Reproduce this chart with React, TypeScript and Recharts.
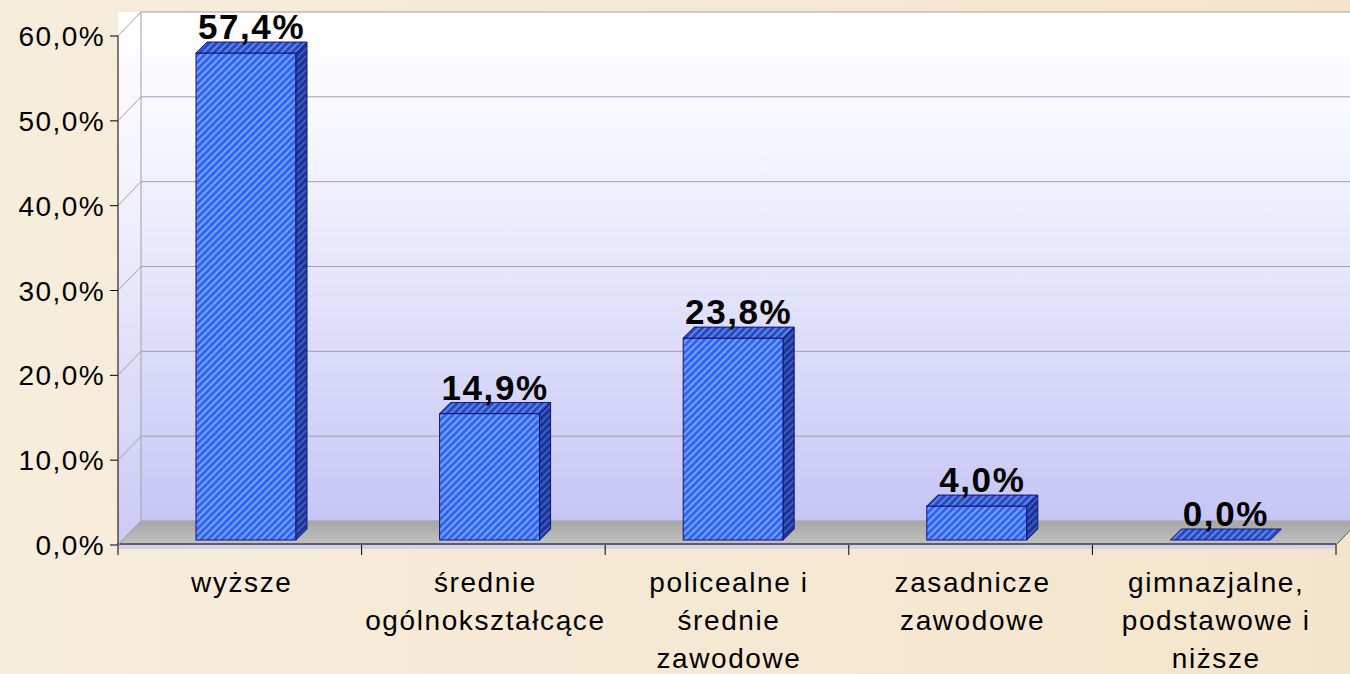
import React from 'react';
import { BarChart, Bar, XAxis, YAxis, CartesianGrid, Customized } from 'recharts';

const categories = [
  'wyższe',
  'średnie\nogólnokształcące',
  'policealne i\nśrednie\nzawodowe',
  'zasadnicze\nzawodowe',
  'gimnazjalne,\npodstawowe i\nniższe',
];
const shares = [57.4, 14.9, 23.8, 4.0, 0.0];
const yTicks = [0, 10, 20, 30, 40, 50, 60];
const Y_MAX = 60;

const data = categories.map((name, i) => ({ name, value: shares[i] }));

const W = 1350;
const H = 674;
const AXIS_X = 118;
const PLOT_TOP = 36;
const PLOT_RIGHT = 1336;
const AXIS_Y = 545;
const DEPTH_X = 23;
const DEPTH_Y = 24;
const BAND = (PLOT_RIGHT - AXIS_X) / categories.length;
const BAR_DEPTH = 11;

const FONT = '"Liberation Sans", Arial, sans-serif';

const fmt = (v: number) => v.toFixed(1).replace('.', ',') + '%';

// back wall gridlines sit one wall-depth behind the front ticks
const backGridLines = ({ yAxis, offset }: any) => {
  if (yAxis && typeof yAxis.scale === 'function') {
    return yTicks.map((t) => yAxis.scale(t) - DEPTH_Y);
  }
  const top = offset?.top ?? PLOT_TOP;
  const h = offset?.height ?? AXIS_Y - PLOT_TOP;
  return yTicks.map((t) => top + h * (1 - t / Y_MAX) - DEPTH_Y);
};

const Defs = () => (
  <defs>
    <linearGradient id="wallGrad" x1="0" y1="0" x2="0" y2="1">
      <stop offset="0%" stopColor="#ffffff" />
      <stop offset="25%" stopColor="#f6f6fe" />
      <stop offset="100%" stopColor="#c6c6f6" />
    </linearGradient>
    <linearGradient id="sideWallGrad" x1="0" y1="0" x2="0" y2="1">
      <stop offset="0%" stopColor="#ffffff" />
      <stop offset="30%" stopColor="#f4f4fd" />
      <stop offset="100%" stopColor="#cacaf6" />
    </linearGradient>
    <linearGradient id="floorGrad" x1="0" y1="0" x2="0" y2="1">
      <stop offset="0%" stopColor="#a6a6a6" />
      <stop offset="100%" stopColor="#c2c2c2" />
    </linearGradient>
    <pattern id="frontHatch" patternUnits="userSpaceOnUse" width="5" height="5" patternTransform="rotate(45)">
      <rect width="5" height="5" fill="#3264f0" />
      <rect width="2" height="5" fill="#74a2ff" />
    </pattern>
    <pattern id="topHatch" patternUnits="userSpaceOnUse" width="5" height="5" patternTransform="rotate(45)">
      <rect width="5" height="5" fill="#2848c8" />
      <rect width="2" height="5" fill="#5c88dc" />
    </pattern>
    <pattern id="sideHatch" patternUnits="userSpaceOnUse" width="5" height="5" patternTransform="rotate(45)">
      <rect width="5" height="5" fill="#1c3295" />
      <rect width="2" height="5" fill="#3c5dbe" />
    </pattern>
  </defs>
);

const Scenery = () => (
  <g>
    <Defs />
    <rect x={AXIS_X} y={PLOT_TOP - DEPTH_Y} width={DEPTH_X} height={AXIS_Y - PLOT_TOP + DEPTH_Y} fill="url(#sideWallGrad)" />
    <polygon
      points={`${AXIS_X},${AXIS_Y} ${AXIS_X + DEPTH_X},${AXIS_Y - DEPTH_Y} ${PLOT_RIGHT + DEPTH_X},${AXIS_Y - DEPTH_Y} ${PLOT_RIGHT},${AXIS_Y}`}
      fill="url(#floorGrad)"
    />
    <line x1={AXIS_X} y1={AXIS_Y} x2={AXIS_X + DEPTH_X} y2={AXIS_Y - DEPTH_Y} stroke="#9a9a9a" />
    <line x1={PLOT_RIGHT} y1={AXIS_Y} x2={PLOT_RIGHT + DEPTH_X} y2={AXIS_Y - DEPTH_Y} stroke="#555" />
    <line x1={AXIS_X + DEPTH_X} y1={PLOT_TOP - DEPTH_Y} x2={AXIS_X + DEPTH_X} y2={AXIS_Y - DEPTH_Y} stroke="#a0a0a0" />
    <rect x={AXIS_X} y={AXIS_Y} width={PLOT_RIGHT - AXIS_X} height={4} fill="#d4d2ea" />
    <line x1={AXIS_X} y1={AXIS_Y - 1} x2={PLOT_RIGHT} y2={AXIS_Y - 1} stroke="#000" />
  </g>
);

const YTick = (props: any) => {
  const { y, payload } = props;
  return (
    <g>
      <line x1={AXIS_X} y1={y} x2={AXIS_X + DEPTH_X} y2={y - DEPTH_Y} stroke="#a0a0a0" />
      <line x1={AXIS_X - 8} y1={y} x2={AXIS_X} y2={y} stroke="#000" />
      <text
        x={AXIS_X - 13}
        y={y}
        dy="0.36em"
        textAnchor="end"
        fontFamily={FONT}
        fontSize={28}
        letterSpacing={1.4}
        fill="#000"
      >
        {fmt(payload.value)}
      </text>
    </g>
  );
};

const XTick = (props: any) => {
  const { x, payload, index } = props;
  const lines = String(payload.value).split('\n');
  const left = x - BAND / 2;
  return (
    <g>
      <line x1={left} y1={AXIS_Y} x2={left} y2={AXIS_Y + 10} stroke="#000" />
      {index === categories.length - 1 && (
        <line x1={x + BAND / 2} y1={AXIS_Y} x2={x + BAND / 2} y2={AXIS_Y + 10} stroke="#000" />
      )}
      <text textAnchor="middle" fontFamily={FONT} fontSize={28} letterSpacing={1.6} fill="#000">
        {lines.map((l, i) => (
          <tspan key={i} x={x + 2} y={AXIS_Y + 47 + i * 38}>
            {l}
          </tspan>
        ))}
      </text>
    </g>
  );
};

const Bar3D = (props: any) => {
  const { x, y, width, height, value } = props;
  const d = BAR_DEPTH;
  const x0 = x + 6;
  const y0 = y - 5;
  const w = width;
  const h = Math.max(0, height);
  const top = `${x0},${y0} ${x0 + d},${y0 - d} ${x0 + w + d},${y0 - d} ${x0 + w},${y0}`;
  const side = `${x0 + w},${y0} ${x0 + w + d},${y0 - d} ${x0 + w + d},${y0 + h - d} ${x0 + w},${y0 + h}`;
  return (
    <g>
      {h > 0.5 && (
        <>
          <rect x={x0} y={y0} width={w} height={h} fill="url(#frontHatch)" stroke="#12127a" strokeWidth={1} />
          <polygon points={side} fill="url(#sideHatch)" stroke="#12127a" strokeWidth={1} />
        </>
      )}
      <polygon points={top} fill="url(#topHatch)" stroke="#12127a" strokeWidth={1} />
      <text
        x={x0 + (w + d) / 2}
        y={y0 - d - 3}
        textAnchor="middle"
        fontFamily={FONT}
        fontWeight="bold"
        fontSize={35}
        letterSpacing={1.6}
        fill="#000"
      >
        {fmt(Number(value))}
      </text>
    </g>
  );
};

export default function App() {
  return (
    <div
      style={{
        position: 'absolute',
        left: 0,
        top: 0,
        width: W,
        height: H,
        background: 'linear-gradient(90deg, #f7eddb 0%, #f6e9d4 50%, #f4e4cb 100%)',
      }}
    >
      <BarChart
        width={W}
        height={H}
        data={data}
        margin={{ top: PLOT_TOP, right: W - PLOT_RIGHT, bottom: 0, left: 0 }}
        barCategoryGap={0}
      >
        <Customized component={<Scenery />} />
        <CartesianGrid
          x={AXIS_X + DEPTH_X}
          y={PLOT_TOP - DEPTH_Y}
          width={W - AXIS_X - DEPTH_X}
          height={AXIS_Y - PLOT_TOP}
          fill="url(#wallGrad)"
          fillOpacity={1}
          vertical={false}
          stroke="#a0a0a0"
          horizontalCoordinatesGenerator={backGridLines}
        />
        <YAxis
          width={AXIS_X}
          domain={[0, Y_MAX]}
          ticks={yTicks}
          interval={0}
          axisLine={{ stroke: '#000' }}
          tickLine={false}
          tick={<YTick />}
        />
        <XAxis
          dataKey="name"
          height={H - AXIS_Y}
          interval={0}
          axisLine={false}
          tickLine={false}
          tick={<XTick />}
        />
        <Bar dataKey="value" barSize={100} shape={<Bar3D />} isAnimationActive={false} />
      </BarChart>
    </div>
  );
}
